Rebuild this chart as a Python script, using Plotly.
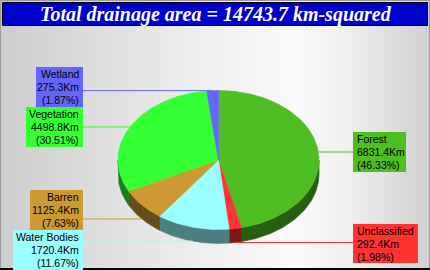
import math
import plotly.graph_objects as go

# ---------------- data ----------------
categories = ["Forest", "Unclassified", "Water Bodies", "Barren", "Vegetation", "Wetland"]
areas = [6831.4, 292.4, 1720.4, 1125.4, 4498.8, 275.3]
colors = ["#4FBE22", "#FF3333", "#99FFFF", "#CC9933", "#33FF33", "#6666FF"]
unit = "Km"

total = sum(areas)
title_text = f"Total drainage area = {total:.1f} km-squared"

# ---------------- layout constants (pixels) ----------------
W, H = 430, 270
CX, CY, RX, RY, DEPTH = 218.5, 160.0, 100.5, 69.5, 14.0
FONT = "Liberation Sans, Arial, sans-serif"
FS = 10.5
LINE_H = 13
# label boxes: x0, x1, y0, y1, side
label_boxes = {
    "Forest": (353, 406, 132, 172, "right"),
    "Unclassified": (353, 418, 224, 263, "right"),
    "Water Bodies": (13, 83, 230, 270, "left"),
    "Barren": (30, 83, 190, 230, "left"),
    "Vegetation": (26, 83, 107, 147, "left"),
    "Wetland": (36, 83, 67, 107, "left"),
}


def darken(hexcol, f=0.5):
    r, g, b = (int(hexcol[i:i + 2], 16) for i in (1, 3, 5))
    return "#%02X%02X%02X" % (int(r * f), int(g * f), int(b * f))


def pt(theta, dy=0.0):
    t = math.radians(theta)
    return CX + RX * math.sin(t), CY - RY * math.cos(t) + dy


def arc(a0, a1, dy=0.0):
    n = max(2, int(abs(a1 - a0) / 1.0) + 2)
    return [pt(a0 + (a1 - a0) * i / (n - 1), dy) for i in range(n)]


# slice angles, clockwise from 12 o'clock
angles = []
acc = 0.0
for v in areas:
    a0 = acc / total * 360
    acc += v
    a1 = acc / total * 360
    angles.append((a0, a1))

fig = go.Figure()

# ---- side walls (front half only) ----
for (a0, a1), col in zip(angles, colors):
    s0, s1 = max(a0, 90), min(a1, 270)
    if s0 < s1:
        top = arc(s0, s1)
        bot = arc(s1, s0, DEPTH)
        pts = top + bot + [top[0]]
        sc = darken(col)
        fig.add_trace(go.Scatter(
            x=[p[0] for p in pts], y=[p[1] for p in pts], mode="lines",
            fill="toself", fillcolor=sc, line=dict(color=sc, width=0.6),
            hoverinfo="skip", showlegend=False))

# ---- top faces ----
for (a0, a1), col in zip(angles, colors):
    pts = [(CX, CY)] + arc(a0, a1) + [(CX, CY)]
    fig.add_trace(go.Scatter(
        x=[p[0] for p in pts], y=[p[1] for p in pts], mode="lines",
        fill="toself", fillcolor=col, line=dict(color=col, width=0.6),
        hoverinfo="skip", showlegend=False))

shapes = []
annotations = []

# ---- background gradient ----
stops = [(0, 204), (100, 222), (200, 238), (295, 250), (350, 238), (430, 208)]


def grey_at(x):
    for (x0, g0), (x1, g1) in zip(stops[:-1], stops[1:]):
        if x0 <= x <= x1:
            return g0 + (g1 - g0) * (x - x0) / (x1 - x0)
    return stops[-1][1]


step = 2
for x in range(0, W, step):
    g = int(round(grey_at(x + step / 2)))
    shapes.append(dict(type="rect", xref="x", yref="y", x0=x, x1=x + step, y0=0, y1=H,
                       fillcolor="rgb(%d,%d,%d)" % (g, g, g), line=dict(width=0), layer="below"))

# frame
shapes.append(dict(type="rect", xref="x", yref="y", x0=0.5, x1=W - 0.5, y0=0.5, y1=H - 1,
                   fillcolor="rgba(0,0,0,0)", line=dict(color="#9A9A9A", width=1), layer="above"))
shapes.append(dict(type="line", xref="x", yref="y", x0=0, x1=W, y0=H - 1, y1=H - 1,
                   line=dict(color="#000000", width=2), layer="above"))
# title bar
shapes.append(dict(type="rect", xref="x", yref="y", x0=2.5, x1=W - 2.5, y0=2.5, y1=25.5,
                   fillcolor="#0000CC", line=dict(color="#000000", width=1), layer="above"))
annotations.append(dict(x=W / 2 + 1, y=14, xref="x", yref="y", text=title_text, showarrow=False,
                        xanchor="center", yanchor="middle",
                        font=dict(family="Liberation Serif, Times New Roman, serif", size=20,
                                  color="#FFFFFF", weight="bold", style="italic")))

# ---- labels with connectors ----
for name, v, (a0, a1), col in zip(categories, areas, angles, colors):
    x0, x1, y0, y1, side = label_boxes[name]
    mid = (a0 + a1) / 2
    front = 90 < mid < 270
    ax, ay = pt(mid, DEPTH if front else 0.0)
    ly = min(max(ay, y0 + 4), y1 - 4)
    bx = x0 if side == "right" else x1
    fig.add_trace(go.Scatter(x=[ax, ax, bx], y=[ay, ly, ly], mode="lines",
                             line=dict(color=col, width=1), hoverinfo="skip", showlegend=False))
    shapes.append(dict(type="rect", xref="x", yref="y", x0=x0, x1=x1, y0=y0, y1=y1,
                       fillcolor=col, line=dict(width=0), layer="above"))
    lines = [name, f"{v:.1f}{unit}", f"({v / total * 100:.2f}%)"]
    for i, t in enumerate(lines):
        if side == "right":
            tx, anc = x0 + 2, "left"
        else:
            tx, anc = x1 - 2, "right"
        annotations.append(dict(x=tx, y=y0 + 7 + i * LINE_H, xref="x", yref="y", text=t,
                                showarrow=False, xanchor=anc, yanchor="middle",
                                font=dict(family=FONT, size=FS, color="#000000")))

fig.update_layout(
    width=W, height=H, margin=dict(l=0, r=0, t=0, b=0),
    paper_bgcolor="#DDDDDD", plot_bgcolor="rgba(0,0,0,0)",
    xaxis=dict(range=[0, W], visible=False, fixedrange=True),
    yaxis=dict(range=[H, 0], visible=False, fixedrange=True),
    shapes=shapes, annotations=annotations, showlegend=False,
)

fig.write_html("out.html", config={"displayModeBar": False})
